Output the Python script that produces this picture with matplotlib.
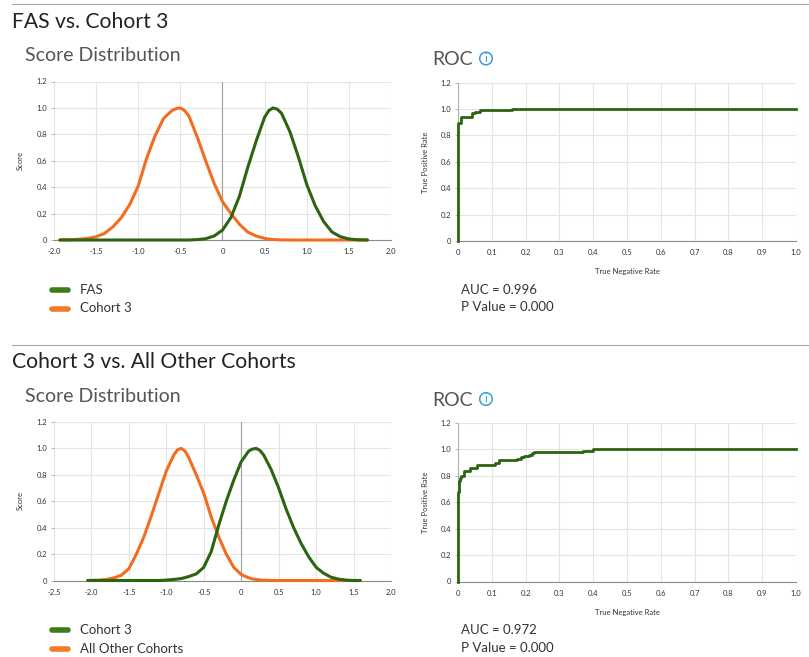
import matplotlib.pyplot as plt
from matplotlib.lines import Line2D
from matplotlib.patches import Circle

plt.rcParams['font.family'] = ['Lato', 'DejaVu Sans']

W, H = 809, 657
GREEN = '#2c6410'
ORANGE = '#f26d1f'
GREEN_KEY = '#3d7d19'
ORANGE_KEY = '#f47a2a'

# score distribution, FAS vs. Cohort 3
top_x = [-1.93, -1.8, -1.7, -1.6, -1.5, -1.4, -1.3, -1.2, -1.1, -1.0, -0.9, -0.8,
         -0.7, -0.6, -0.55, -0.5, -0.45, -0.4, -0.3, -0.2, -0.1, 0.0, 0.1, 0.2, 0.3, 0.4, 0.5,
         0.55, 0.6, 0.65, 0.7, 0.8, 0.9, 1.0, 1.1, 1.2, 1.3, 1.4, 1.5, 1.6, 1.72]
top_cohort3 = [0, 0.003, 0.006, 0.012, 0.025, 0.05, 0.10, 0.17, 0.27, 0.41, 0.62, 0.79,
               0.92, 0.98, 0.995, 1.00, 0.98, 0.94, 0.78, 0.60, 0.43, 0.29, 0.20, 0.12, 0.06,
               0.03, 0.012, 0.007, 0.004, 0.002, 0.001, 0, 0, 0, 0, 0, 0, 0, 0, 0, 0]
top_fas = [0, 0, 0, 0, 0, 0, 0, 0, 0, 0, 0, 0,
           0, 0, 0, 0, 0, 0, 0.003, 0.01, 0.03, 0.075, 0.17, 0.33, 0.55, 0.75, 0.93,
           0.98, 1.00, 0.99, 0.96, 0.82, 0.63, 0.42, 0.26, 0.14, 0.06, 0.025, 0.008, 0.002, 0]

# score distribution, Cohort 3 vs. All Other Cohorts
bot_x = [-2.05, -1.9, -1.8, -1.7, -1.6, -1.5, -1.4, -1.3, -1.2, -1.1, -1.0, -0.9, -0.85,
         -0.8, -0.75, -0.7, -0.6, -0.5, -0.4, -0.3, -0.2, -0.1, 0.0, 0.1, 0.15, 0.2, 0.25,
         0.3, 0.4, 0.5, 0.6, 0.7, 0.8, 0.9, 1.0, 1.1, 1.2, 1.3, 1.4, 1.5, 1.59]
bot_others = [0, 0.003, 0.008, 0.02, 0.04, 0.09, 0.20, 0.33, 0.49, 0.66, 0.83, 0.95, 0.99,
              1.00, 0.98, 0.93, 0.80, 0.66, 0.48, 0.33, 0.20, 0.10, 0.045, 0.02, 0.012, 0.008,
              0.004, 0.002, 0, 0, 0, 0, 0, 0, 0, 0, 0, 0, 0, 0, 0]
bot_cohort3 = [0, 0, 0, 0, 0, 0, 0, 0, 0, 0, 0.003, 0.008, 0.011,
               0.015, 0.022, 0.03, 0.05, 0.10, 0.22, 0.42, 0.60, 0.76, 0.90, 0.98, 0.995, 1.00,
               0.985, 0.95, 0.84, 0.70, 0.54, 0.40, 0.28, 0.18, 0.10, 0.055, 0.025, 0.01, 0.003,
               0, 0]

# ROC curves
roc1_x = [0, 0, 0.008, 0.04, 0.05, 0.065, 0.10, 0.16, 1.0]
roc1_y = [0, 0.89, 0.94, 0.97, 0.98, 0.99, 0.995, 1.0, 1.0]
roc2_x = [0, 0, 0.002, 0.005, 0.01, 0.018, 0.035, 0.057, 0.11, 0.12, 0.175, 0.185,
          0.195, 0.21, 0.22, 0.225, 0.37, 0.40, 1.0]
roc2_y = [0, 0.68, 0.76, 0.78, 0.80, 0.84, 0.86, 0.88, 0.90, 0.92, 0.93, 0.94,
          0.95, 0.96, 0.97, 0.98, 0.99, 1.0, 1.0]

y_ticks = [0, 0.2, 0.4, 0.6, 0.8, 1.0, 1.2]
y_labels = ['0', '0.2', '0.4', '0.6', '0.8', '1.0', '1.2']
top_xticks = [-2.0, -1.5, -1.0, -0.5, 0, 0.5, 1.0, 1.5, 2.0]
top_xlabels = ['-2.0', '-1.5', '-1.0', '-0.5', '0', '0.5', '1.0', '1.5', '2.0']
bot_xticks = [-2.5, -2.0, -1.5, -1.0, -0.5, 0, 0.5, 1.0, 1.5, 2.0]
bot_xlabels = ['-2.5', '-2.0', '-1.5', '-1.0', '-0.5', '0', '0.5', '1.0', '1.5', '2.0']
roc_xticks = [0, 0.1, 0.2, 0.3, 0.4, 0.5, 0.6, 0.7, 0.8, 0.9, 1.0]
roc_xlabels = ['0', '0.1', '0.2', '0.3', '0.4', '0.5', '0.6', '0.7', '0.8', '0.9', '1.0']

sections = [
    dict(title='FAS vs. Cohort 3', keys=['FAS', 'Cohort 3'], auc='AUC = 0.996',
         pval='P Value = 0.000', dx=top_x, green=top_fas, orange=top_cohort3,
         xticks=top_xticks, xlabels=top_xlabels, rx=roc1_x, ry=roc1_y),
    dict(title='Cohort 3 vs. All Other Cohorts', keys=['Cohort 3', 'All Other Cohorts'],
         auc='AUC = 0.972', pval='P Value = 0.000', dx=bot_x, green=bot_cohort3,
         orange=bot_others, xticks=bot_xticks, xlabels=bot_xlabels, rx=roc2_x, ry=roc2_y),
]

fig = plt.figure(figsize=(W / 100, H / 100), dpi=100)
px = fig.dpi_scale_trans


def px_axes(x0, y0, x1, y1):
    return fig.add_axes([x0 / W, 1 - y1 / H, (x1 - x0) / W, (y1 - y0) / H])


def ftext(x, y, s, **kw):
    return fig.text(x / W, 1 - y / H, s, **kw)


def style(ax, xticks, xlabels):
    ax.set_xlim(xticks[0], xticks[-1])
    ax.set_ylim(0, 1.2)
    ax.set_xticks(xticks)
    ax.set_xticklabels(xlabels)
    ax.set_yticks(y_ticks)
    ax.set_yticklabels(y_labels)
    ax.grid(color='#e4e4e4', lw=0.8)
    ax.set_axisbelow(True)
    for s in ['top', 'right', 'left']:
        ax.spines[s].set_visible(False)
    ax.spines['bottom'].set_color('#8a8a8a')
    ax.spines['bottom'].set_linewidth(0.8)
    ax.tick_params(axis='x', length=0, pad=6, labelsize=5.5, labelcolor='#333')
    ax.tick_params(axis='y', length=2.5, width=0.6, color='#aaa', pad=2.5,
                   labelsize=5.5, labelcolor='#333')


for i, sec in enumerate(sections):
    off = i * 340.5

    # header
    fig.add_artist(Line2D([12 / W, 1], [1 - (4 + off) / H] * 2, color='#a8a8a8', lw=0.8))
    ftext(12, 28 + off, sec['title'], fontsize=15.2, color='#222', va='baseline')
    ftext(25, 61 + off, 'Score Distribution', fontsize=14, color='#555', va='baseline')
    ftext(432, 65 + off, 'ROC', fontsize=14, color='#555', va='baseline')
    fig.add_artist(Circle((486 / 100, (H - 58.5 - off) / 100), 6.3 / 100, transform=px,
                          facecolor='white', edgecolor='#3a9fd8', lw=1.1))
    ftext(486, 58.5 + off, 'i', fontsize=8.5, color='#3a9fd8', ha='center', va='center')

    # score distribution
    ax = px_axes(54, 81.5 + off, 391, 240 + off)
    style(ax, sec['xticks'], sec['xlabels'])
    ax.axvline(0, color='#a0a0a0', lw=0.8, zorder=1)
    ax.plot(sec['dx'], sec['orange'], color=ORANGE, lw=2.2, clip_on=False,
            solid_capstyle='round', solid_joinstyle='round', zorder=3)
    ax.plot(sec['dx'], sec['green'], color=GREEN, lw=2.2, clip_on=False,
            solid_capstyle='round', solid_joinstyle='round', zorder=3)
    ftext(20.5, 160 + off, 'Score', rotation=90, fontsize=5.5, color='#333',
          ha='center', va='center')

    # ROC
    ax = px_axes(458, 82.5 + off, 796, 241 + off)
    style(ax, roc_xticks, roc_xlabels)
    ax.spines['left'].set_visible(True)
    ax.spines['left'].set_color('#b0b0b0')
    ax.spines['left'].set_linewidth(0.8)
    ax.step(sec['rx'], sec['ry'], where='post', color=GREEN, lw=2.0, clip_on=False,
            zorder=3)
    ftext(425, 162 + off, 'True Positive Rate', rotation=90, fontsize=5.5, color='#333',
          ha='center', va='center')
    ftext(627, 271.5 + off, 'True Negative Rate', fontsize=5.5, color='#333',
          ha='center', va='center')

    # legend and stats
    for k, (lab, col) in enumerate(zip(sec['keys'], [GREEN_KEY, ORANGE_KEY])):
        yk = 289.5 + off + k * 19
        fig.add_artist(Line2D([52 / 100, 68 / 100], [(H - yk) / 100] * 2, transform=px,
                              color=col, lw=4, solid_capstyle='round'))
        ftext(80, yk, lab, fontsize=9.5, color='#333', va='center')
    ftext(461, 289.5 + off, sec['auc'], fontsize=9.5, color='#333', va='center')
    ftext(461, 307.5 + off, sec['pval'], fontsize=9.5, color='#333', va='center')

fig.savefig('out.png', dpi=100)
